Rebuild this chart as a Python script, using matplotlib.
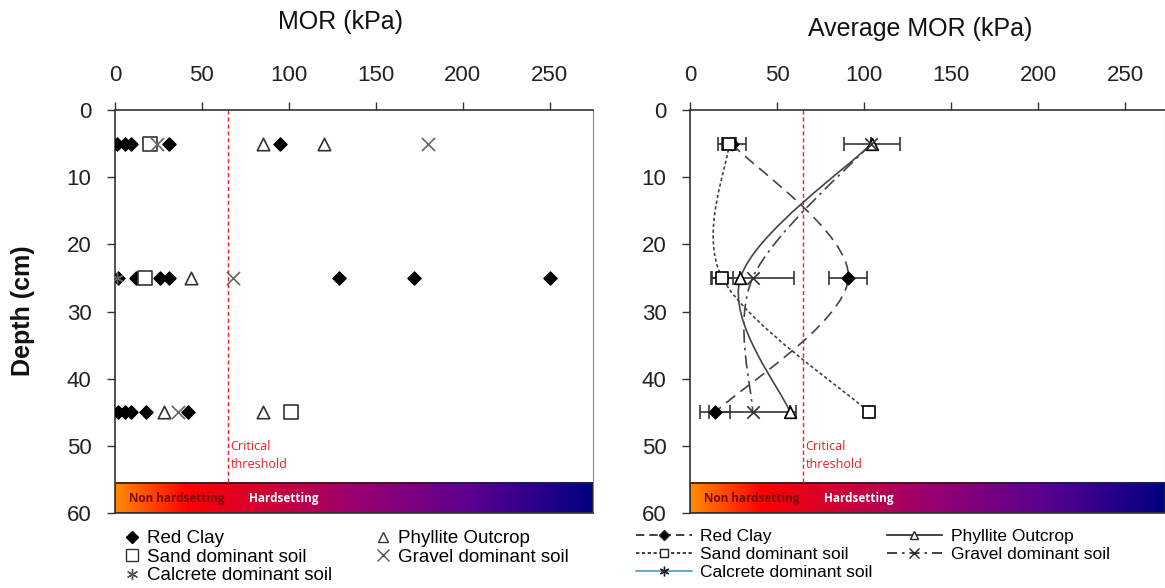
import numpy as np
import matplotlib
matplotlib.use("Agg")
import matplotlib.pyplot as plt
from matplotlib.colors import LinearSegmentedColormap
from matplotlib.lines import Line2D
from matplotlib.path import Path
from matplotlib.patches import PathPatch, Rectangle

plt.rcParams['font.family'] = ['Liberation Sans', 'DejaVu Sans']

# Individual MOR readings (kPa) at each sampling depth (cm)
red_clay_depth = [5, 5, 5, 5, 5, 25, 25, 25, 25, 25, 25, 25, 25, 45, 45, 45, 45, 45]
red_clay_mor = [1, 6, 9, 31, 95, 2, 12, 14, 26, 31, 129, 172, 250, 2, 6, 9, 18, 42]
phyllite_depth = [5, 5, 25, 45, 45]
phyllite_mor = [85, 120, 44, 28, 85]
sand_depth = [5, 25, 45]
sand_mor = [20, 17, 101]
gravel_depth = [5, 5, 25, 45]
gravel_mor = [24, 180, 68, 36]
calcrete_depth = [25]
calcrete_mor = [1]

# Average MOR (kPa) with error bars
avg_depth = [5, 25, 45]
red_clay_avg = [24, 91, 14.5]
red_clay_err = [8, 11, 8.5]
phyllite_avg = [104.5, 29, 57.5]
phyllite_err = [16, 0, 0]
sand_avg = [22.5, 18.5, 103]
sand_err = [4, 6, 0]
gravel_avg = [104, 36, 36]
gravel_err = [0, 24, 25]

threshold = 65
x_ticks = [0, 50, 100, 150, 200, 250]
y_ticks = [0, 10, 20, 30, 40, 50, 60]

W, H = 1165, 588
fig = plt.figure(figsize=(W / 100, H / 100), dpi=100)

ax1 = fig.add_axes([115 / W, 1 - 513 / H, (593 - 115) / W, (513 - 110) / H])
ax2 = fig.add_axes([690 / W, 1 - 513 / H, (1165 - 690) / W, (513 - 110) / H])

grad_cmap = LinearSegmentedColormap.from_list(
    "hs", [(0.0, "#ff8a00"), (0.15, "#ff0000"), (0.5, "#9a0070"),
           (0.75, "#5a0090"), (1.0, "#000080")])


def smooth_path(xs, ys):
    # cubic Bezier through the points, Catmull-Rom style tangents
    pts = np.column_stack([xs, ys]).astype(float)
    n = len(pts)
    verts = [pts[0]]
    codes = [Path.MOVETO]
    for i in range(n - 1):
        p0 = pts[max(i - 1, 0)]
        p1 = pts[i]
        p2 = pts[i + 1]
        p3 = pts[min(i + 2, n - 1)]
        verts += [p1 + (p2 - p0) / 6, p2 - (p3 - p1) / 6, p2]
        codes += [Path.CURVE4] * 3
    return Path(verts, codes)


def setup(ax, xmax):
    ax.set_xlim(0, xmax)
    ax.set_ylim(60, 0)
    ax.xaxis.tick_top()
    ax.set_xticks(x_ticks)
    ax.set_yticks(y_ticks)
    ax.tick_params(axis='x', direction='out', length=6, width=1, pad=11,
                   labelsize=16, colors='#333333', labelcolor='#222222')
    ax.tick_params(axis='y', direction='out', length=6, width=1, pad=11,
                   labelsize=16, colors='#333333', labelcolor='#222222')
    for s in ['top', 'left', 'bottom']:
        ax.spines[s].set_color('#333333')
        ax.spines[s].set_linewidth(1.2)
    ax.spines['right'].set_color('#888888')

    # hardsetting colour band
    g = np.linspace(0, 1, 256).reshape(1, -1)
    ax.imshow(g, cmap=grad_cmap, aspect='auto', extent=[0, xmax, 60, 55.5],
              zorder=1)
    ax.add_patch(Rectangle((0, 55.5), xmax, 4.5, fill=False,
                           edgecolor='#222222', lw=1.2, zorder=2))
    ax.text(8, 57.8, "Non hardsetting", color='#7a0a0a', fontsize=8.5,
            fontweight='bold', family='Open Sans', va='center', zorder=3)
    ax.text(77, 57.8, "Hardsetting", color='white', fontsize=8.5,
            fontweight='bold', family='Open Sans', va='center', zorder=3)

    ax.plot([threshold, threshold], [0, 55.5], color='#e8202a', lw=1,
            ls=(0, (3, 2)), zorder=2)
    ax.text(threshold + 1.5, 51.5, "Critical\nthreshold", color='#e8202a',
            fontsize=9, family='Open Sans', va='center', linespacing=1.5)


setup(ax1, 275)
setup(ax2, 273)

# left panel: individual readings
ax1.scatter(red_clay_mor, red_clay_depth, marker='D', s=45, color='black',
            zorder=4)
ax1.scatter(phyllite_mor, phyllite_depth, marker='^', s=80, facecolor='white',
            edgecolor='#333333', lw=1.2, zorder=4)
ax1.scatter(sand_mor, sand_depth, marker='s', s=90, facecolor='white',
            edgecolor='#333333', lw=1.2, zorder=4)
ax1.scatter(gravel_mor, gravel_depth, marker='x', s=90, color='#666666',
            lw=1.2, zorder=4)
ax1.scatter(calcrete_mor, calcrete_depth, marker=(6, 2, 0), s=60,
            color='#666666', lw=1, zorder=4)

# right panel: averages with smooth connecting curves
line_col = '#444444'
series = [
    (red_clay_avg, red_clay_err, (0, (7, 4)), 'D', 'black', 40),
    (sand_avg, sand_err, (0, (2, 1.5)), 's', 'white', 80),
    (phyllite_avg, phyllite_err, '-', '^', 'white', 70),
    (gravel_avg, gravel_err, (0, (8, 3, 1.5, 3)), 'x', None, 80),
]
for vals, errs, ls, mk, fc, sz in series:
    ax2.add_patch(PathPatch(smooth_path(vals, avg_depth), fill=False,
                            edgecolor=line_col, lw=1.2, ls=ls, zorder=3))
    ax2.errorbar(vals, avg_depth, xerr=errs, fmt='none', ecolor='#333333',
                 elinewidth=1.2, capsize=5, capthick=1.2, zorder=3)
    if fc is None:
        ax2.scatter(vals, avg_depth, marker=mk, s=sz, color='#333333',
                    lw=1.2, zorder=4)
    else:
        ax2.scatter(vals, avg_depth, marker=mk, s=sz, facecolor=fc,
                    edgecolor='black', lw=1.2, zorder=4)

fig.text(341 / W, 1 - 22 / H, "MOR (kPa)", fontsize=18, ha='center',
         va='center', color='#111111')
fig.text(920 / W, 1 - 29 / H, "Average MOR (kPa)", fontsize=18, ha='center',
         va='center', color='#111111')
fig.text(23 / W, 1 - 311 / H, "Depth (cm)", fontsize=18, fontweight='bold',
         rotation=90, ha='center', va='center', color='#111111')

# legends
left_handles = [
    Line2D([], [], ls='none', marker='D', ms=6, color='black'),
    Line2D([], [], ls='none', marker='s', ms=8, mfc='white', mec='#333333'),
    Line2D([], [], ls='none', marker=(6, 2, 0), ms=8, color='#555555'),
    Line2D([], [], ls='none', marker='^', ms=7, mfc='white', mec='#333333'),
    Line2D([], [], ls='none', marker='x', ms=8, color='#555555'),
]
labels = ["Red Clay", "Sand dominant soil", "Calcrete dominant soil",
          "Phyllite Outcrop", "Gravel dominant soil"]
fig.legend(left_handles, labels, loc='upper left', ncol=2,
           bbox_to_anchor=(126 / W, 1 - 530 / H), frameon=False,
           fontsize=13.5, handlelength=0.6, handletextpad=0.5,
           labelspacing=0.08, columnspacing=2.45, borderpad=0,
           borderaxespad=0)

right_handles = [
    Line2D([], [], ls=(0, (5, 3)), lw=1.2, color='#222222', marker='D', ms=5,
           mfc='black'),
    Line2D([], [], ls=(0, (2, 1.5)), lw=1.2, color='#222222', marker='s',
           ms=6, mfc='white'),
    Line2D([], [], ls='-', lw=1.2, color='#4a9ec0', marker=(6, 2, 0), ms=7,
           mec='#222222'),
    Line2D([], [], ls='-', lw=1.2, color='#222222', marker='^', ms=6,
           mfc='white'),
    Line2D([], [], ls=(0, (6, 3, 1.5, 3)), lw=1.2, color='#222222',
           marker='x', ms=7),
]
fig.legend(right_handles, labels, loc='upper left', ncol=2,
           bbox_to_anchor=(636 / W, 1 - 529 / H), frameon=False,
           fontsize=12.5, handlelength=3.2, handletextpad=0.5,
           labelspacing=0.15, columnspacing=0.8, borderpad=0,
           borderaxespad=0)

fig.savefig("out.png", dpi=100)
